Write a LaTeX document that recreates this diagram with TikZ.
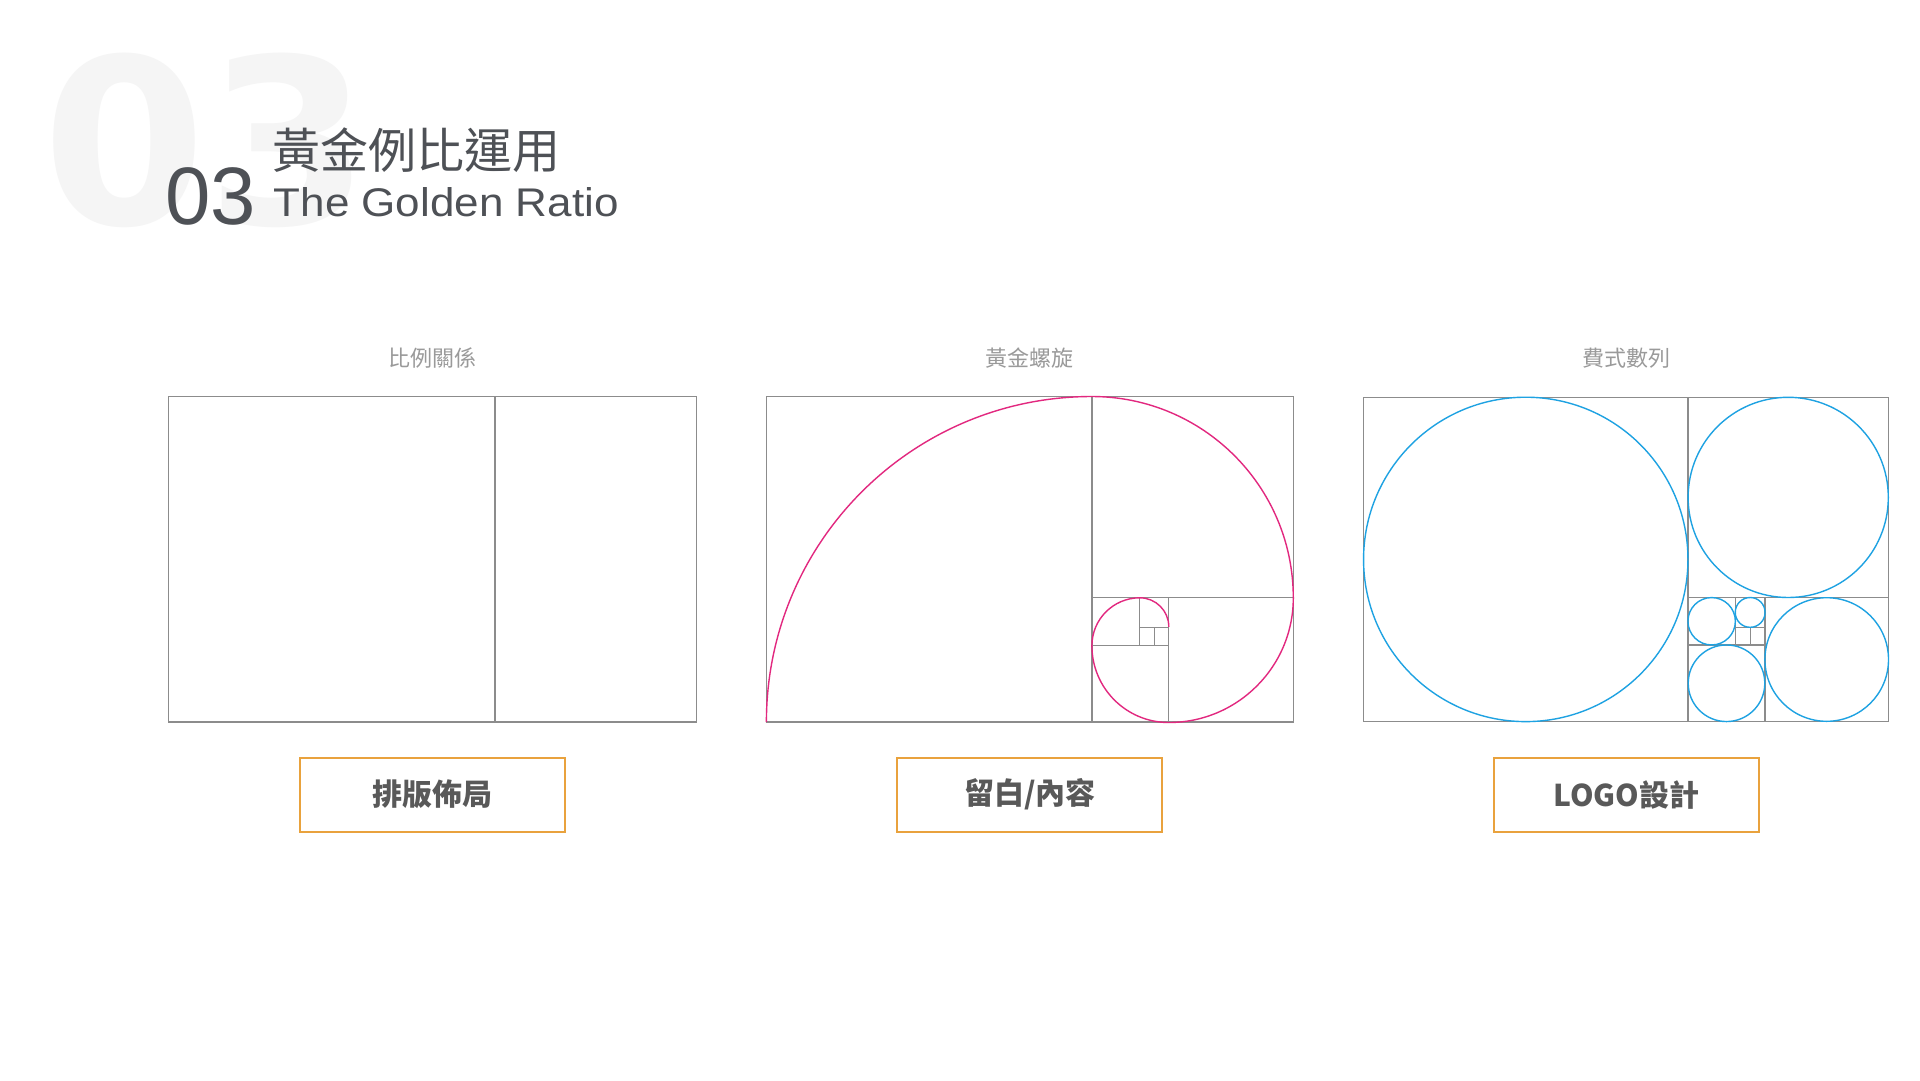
\documentclass[tikz,border=0pt]{standalone}
\usepackage{fontspec}
\setmainfont{Liberation Sans}
\newfontfamily\cjk{Noto Sans CJK TC}
\newfontfamily\bigdig{DejaVu Sans}
\definecolor{framegray}{HTML}{8C8C8C}
\definecolor{spiralpink}{HTML}{E2287F}
\definecolor{circblue}{HTML}{1EA2E2}
\definecolor{btnorange}{HTML}{E9A23D}
\definecolor{titlegray}{HTML}{4E5156}
\definecolor{labelgray}{HTML}{9A9A9A}
\definecolor{btntext}{HTML}{595959}
\definecolor{ghost}{HTML}{F5F5F5}
\begin{document}
\begin{tikzpicture}[x=1pt,y=1pt,
  frame/.style={draw=framegray,line width=1.4pt},
  spiral/.style={draw=spiralpink,line width=1.4pt},
  circ/.style={draw=circblue,line width=1.4pt},
  lab/.style={font=\cjk\fontsize{22}{24}\selectfont,text=labelgray,inner sep=0pt},
  btn/.style={draw=btnorange,line width=2pt,minimum width=265pt,minimum height=74pt,
    font=\cjk\bfseries\fontsize{30}{32}\selectfont,text=btntext,inner sep=0pt}]
\useasboundingbox (0,0) rectangle (1920,-1080);
\fill[white] (0,0) rectangle (1920,-1080);
% title
\node[anchor=base west,inner sep=0pt,text=ghost,font=\bigdig\bfseries\fontsize{231}{240}\selectfont,xscale=1.02] (bg03) at (42,-224) {03};
\node[anchor=base west,inner sep=0pt,text=titlegray,font=\fontsize{81.5}{84}\selectfont] (num) at (165.4,-224) {03};
\node[anchor=base west,inner sep=0pt,text=titlegray,font=\cjk\fontsize{48}{50}\selectfont] (titlecn) at (272.5,-168.5) {黃金例比運用};
\node[anchor=base west,inner sep=0pt,text=titlegray,font=\fontsize{40}{42}\selectfont,xscale=1.1] (titleen) at (273.5,-216.5) {The Golden Ratio};
% labels
\node[lab] (lab1) at (432.5,-358) {比例關係};
\node[lab] (lab2) at (1029.8,-358) {黃金螺旋};
\node[lab] (lab3) at (1626,-358) {費式數列};
% diagram 1
\draw[frame] (168.6,-396.7) rectangle (696.4,-722);
\draw[frame] (495,-396.7) -- (495,-722);
% diagram 2
\draw[frame] (766.4,-396.3) rectangle (1293.2,-722);
\draw[frame] (1091.8,-396.3) -- (1091.8,-722);
\draw[frame] (1091.8,-597.7) -- (1293.2,-597.7);
\draw[frame] (1168.6,-597.7) -- (1168.6,-722);
\draw[frame] (1091.8,-645.7) -- (1168.6,-645.7);
\draw[frame] (1139.7,-597.7) -- (1139.7,-645.7);
\draw[frame,line width=1.1pt] (1139.7,-627.3) -- (1168.6,-627.3);
\draw[frame,line width=1.1pt] (1154.3,-627.3) -- (1154.3,-645.7);
\draw[spiral] (766.4,-722)
  arc[start angle=180,end angle=90,radius=325.5pt]
  arc[start angle=90,end angle=0,radius=201.4pt]
  arc[start angle=0,end angle=-90,radius=124.6pt]
  arc[start angle=-90,end angle=-180,radius=76.8pt]
  arc[start angle=180,end angle=90,radius=47.9pt]
  arc[start angle=90,end angle=0,radius=29pt];
% diagram 3
\draw[frame] (1363.5,-397.3) rectangle (1888.4,-721.5);
\draw[frame] (1688,-397.3) -- (1688,-721.5);
\draw[frame] (1688,-597.5) -- (1888.4,-597.5);
\draw[frame] (1765,-597.5) -- (1765,-721.5);
\draw[frame] (1688,-645) -- (1765,-645);
\draw[frame] (1735.3,-597.5) -- (1735.3,-645);
\draw[frame,line width=1.1pt] (1735.3,-627.3) -- (1765,-627.3);
\draw[frame,line width=1.1pt] (1750.3,-627.3) -- (1750.3,-645);
\draw[circ] (1525.75,-559.4) circle[radius=162.2pt];
\draw[circ] (1788.2,-497.4) circle[radius=100.1pt];
\draw[circ] (1826.7,-659.5) circle[radius=61.8pt];
\draw[circ] (1726.5,-683.25) circle[radius=38.3pt];
\draw[circ] (1711.65,-621.25) circle[radius=23.7pt];
\draw[circ] (1750.15,-612.4) circle[radius=14.9pt];
% buttons
\node[btn] (btn1) at (432.5,-794.6) {\raisebox{-2pt}{排版佈局}};
\node[btn] (btn2) at (1029.8,-794.6) {\raisebox{-2pt}{留白/內容}};
\node[btn] (btn3) at (1626.3,-794.6) {\raisebox{-2pt}{LOGO設計}};
\end{tikzpicture}
\end{document}
